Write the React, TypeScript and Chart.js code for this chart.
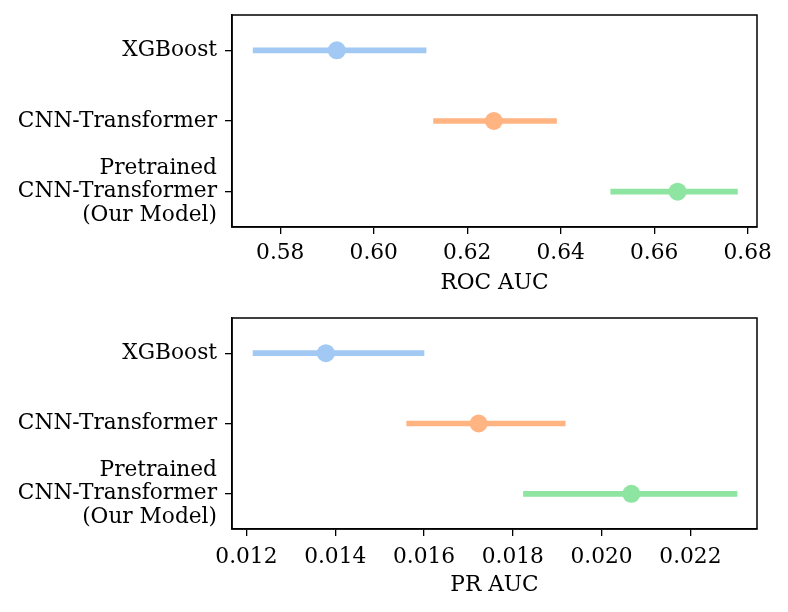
import React, { useEffect, useRef } from 'react';
import { Chart, registerables } from 'chart.js';

Chart.register(...registerables);

const categories: (string | string[])[] = [
  'XGBoost',
  'CNN-Transformer',
  ['Pretrained', 'CNN-Transformer', '(Our Model)'],
];
const colors = ['#a1c9f4', '#ffb482', '#8de5a1'];

const rocMean = [0.5921, 0.6257, 0.665];
const rocLow = [0.5742, 0.6128, 0.6507];
const rocHigh = [0.6112, 0.6391, 0.6778];
const rocTicks = [0.58, 0.6, 0.62, 0.64, 0.66, 0.68];

const prMean = [0.01379, 0.01723, 0.02067];
const prLow = [0.01215, 0.01561, 0.01824];
const prHigh = [0.016, 0.01918, 0.02305];
const prTicks = [0.012, 0.014, 0.016, 0.018, 0.02, 0.022];

const FONT = 'DejaVu Serif';
const FSIZE = 21.7;

const framePlugin = {
  id: 'frame',
  afterDraw(chart: any) {
    const { ctx, chartArea } = chart;
    const { left, top, right, bottom } = chartArea;
    ctx.save();
    ctx.strokeStyle = '#000';
    ctx.lineWidth = 1.5;
    ctx.strokeRect(left, top, right - left, bottom - top);
    ctx.restore();
  },
};

function makeConfig(
  mean: number[],
  low: number[],
  high: number[],
  ticks: number[],
  min: number,
  max: number,
  digits: number,
  title: string,
  padTop: number,
  xHeight: number,
  titlePad: number,
  tickPad: number
): any {
  return {
    type: 'bar',
    data: {
      labels: categories,
      datasets: [
        {
          type: 'line',
          indexAxis: 'y',
          data: mean,
          showLine: false,
          pointRadius: 9,
          pointHoverRadius: 9,
          pointBackgroundColor: colors,
          pointBorderWidth: 0,
          order: 1,
        },
        {
          type: 'bar',
          data: low.map((l, i) => [l, high[i]]),
          backgroundColor: colors,
          borderWidth: 0,
          barThickness: 5,
          borderSkipped: false,
          order: 2,
        },
      ],
    },
    options: {
      indexAxis: 'y',
      animation: false,
      responsive: false,
      devicePixelRatio: 1,
      layout: { padding: { left: 0, right: 31, top: padTop, bottom: 0 } },
      plugins: { legend: { display: false }, tooltip: { enabled: false } },
      scales: {
        x: {
          type: 'linear',
          min,
          max,
          afterBuildTicks: (s: any) => {
            s.ticks = ticks.map((v) => ({ value: v }));
          },
          afterFit: (s: any) => {
            s.height = xHeight;
          },
          ticks: {
            color: '#000',
            font: { family: FONT, size: FSIZE },
            padding: tickPad,
            maxRotation: 0,
            autoSkip: false,
            callback: (v: any) => Number(v).toFixed(digits),
          },
          grid: {
            drawOnChartArea: false,
            drawTicks: true,
            tickLength: 7,
            color: '#000',
            lineWidth: 1.3,
          },
          border: { display: true, color: '#000', width: 1.5 },
          title: {
            display: true,
            text: title,
            color: '#000',
            font: { family: FONT, size: FSIZE },
            padding: { top: 0, bottom: titlePad },
          },
        },
        y: {
          type: 'category',
          offset: true,
          afterFit: (s: any) => {
            s.width = 232;
            s.paddingTop = 0;
            s.paddingBottom = 0;
          },
          ticks: {
            color: '#000',
            font: { family: FONT, size: FSIZE, lineHeight: 1.07 },
            padding: 8,
            autoSkip: false,
          },
          grid: {
            offset: false,
            drawOnChartArea: false,
            drawTicks: true,
            tickLength: 7,
            color: '#000',
            lineWidth: 1.3,
          },
          border: { display: true, color: '#000', width: 1.5 },
        },
      },
    },
    plugins: [framePlugin],
  };
}

export default function App() {
  const ref1 = useRef<HTMLCanvasElement>(null);
  const ref2 = useRef<HTMLCanvasElement>(null);

  useEffect(() => {
    const c1 = new Chart(
      ref1.current as HTMLCanvasElement,
      makeConfig(rocMean, rocLow, rocHigh, rocTicks, 0.56968, 0.68199, 2, 'ROC AUC', 15, 79, 10, 6)
    );
    const c2 = new Chart(
      ref2.current as HTMLCanvasElement,
      makeConfig(prMean, prLow, prHigh, prTicks, 0.011676, 0.0235, 3, 'PR AUC', 12, 83, 14, 8)
    );
    return () => {
      c1.destroy();
      c2.destroy();
    };
  }, []);

  return (
    <div
      style={{
        position: 'absolute',
        left: 0,
        top: 0,
        width: 788,
        height: 612,
        background: '#fff',
      }}
    >
      <canvas ref={ref1} width={788} height={306} style={{ display: 'block', width: 788, height: 306 }} />
      <canvas ref={ref2} width={788} height={306} style={{ display: 'block', width: 788, height: 306 }} />
    </div>
  );
}
